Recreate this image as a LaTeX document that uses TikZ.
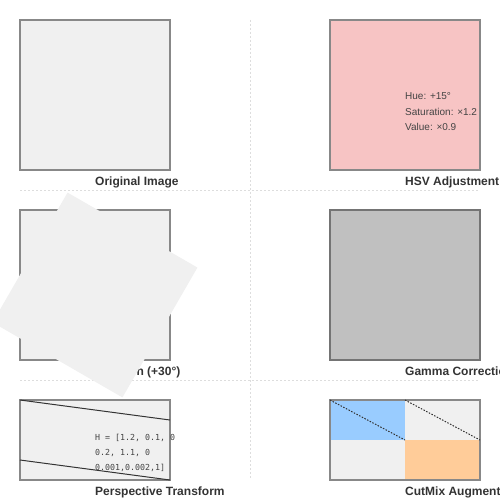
\documentclass[tikz,border=0pt]{standalone}
\usepackage{fontspec}
\setmainfont{Liberation Sans}
\newfontfamily\monofont{DejaVu Sans Mono}
\definecolor{sepgray}{HTML}{DDDDDD}
\definecolor{boxgray}{HTML}{888888}
\definecolor{lightfill}{HTML}{F0F0F0}
\definecolor{pinkfill}{HTML}{F7C4C4}
\definecolor{gammafill}{HTML}{C0C0C0}
\definecolor{bluefill}{HTML}{99CCFF}
\definecolor{orangefill}{HTML}{FFCC99}
\definecolor{labeltext}{HTML}{333333}
\definecolor{smalltext}{HTML}{444444}
\tikzset{
  sep/.style={draw=sepgray, line width=1pt, dash pattern=on 2pt off 2pt},
  imgbox/.style={draw=boxgray, line width=1.5pt, inner sep=0pt, outer sep=0pt, minimum width=150pt},
  paneltitle/.style={anchor=base west, inner sep=0pt, text=labeltext, font=\fontsize{12}{14}\selectfont\bfseries},
  infotext/.style={anchor=base west, inner sep=0pt, text=smalltext, font=\fontsize{10}{12}\selectfont},
  codetext/.style={anchor=base west, inner sep=0pt, text=smalltext, font=\monofont\fontsize{8.3}{10}\selectfont},
  diagline/.style={draw=labeltext, line width=1pt},
  dotline/.style={draw=labeltext, line width=1pt, dash pattern=on 1.5pt off 1.5pt}
}
\begin{document}
\begin{tikzpicture}[x=1pt,y=-1pt]
\useasboundingbox (0,0) rectangle (500,500);
% separators
\coordinate (h1a) at (20,190); \coordinate (h1b) at (478,190);
\coordinate (h2a) at (20,380); \coordinate (h2b) at (478,380);
\coordinate (va) at (250,20); \coordinate (vb) at (250,478);
\draw[sep] (h1a) -- (h1b);
\draw[sep] (h2a) -- (h2b);
\draw[sep] (va) -- (vb);
% panel 1
\node[imgbox, fill=lightfill, minimum height=150pt] (orig) at (95,95) {};
\node[paneltitle] (origlbl) at (95,185) {Original Image};
% panel 2
\node[imgbox, fill=pinkfill, minimum height=150pt] (hsv) at (405,95) {};
\node[infotext] (hue) at (405,100) {Hue: +15°};
\node[infotext] (sat) at (405,115) {Saturation: ×1.2};
\node[infotext] (val) at (405,130) {Value: ×0.9};
\node[paneltitle] (hsvlbl) at (405,185) {HSV Adjustment};
% panel 3
\node[imgbox, fill=lightfill, minimum height=150pt] (rot) at (95,285) {};
\node[paneltitle] (rotlbl) at (95,375) {Rotation (+30°)};
% panel 4
\node[imgbox, fill=gammafill, draw=boxgray!85!black, minimum height=150pt] (gamma) at (405,285) {};
\node[paneltitle] (gammalbl) at (405,375) {Gamma Correction};
% panel 5
\node[imgbox, fill=lightfill, minimum height=80pt] (persp) at (95,440) {};
\coordinate (p1) at (170,420);
\coordinate (p2) at (20,460);
\draw[diagline] (persp.north west) -- (p1);
\draw[diagline] (p2) -- (persp.south east);
\node[codetext] (h1) at (95,440) {H = [1.2, 0.1, 0};
\node[codetext] (h2) at (95,455) {0.2, 1.1, 0};
\node[codetext] (h3) at (95,470) {0.001,0.002,1]};
\node[paneltitle] (persplbl) at (95,495) {Perspective Transform};
% panel 6
\node[imgbox, fill=lightfill, minimum height=80pt] (cut) at (405,440) {};
\fill[bluefill] (330,400) rectangle (405,440);
\fill[orangefill] (405,440) rectangle (480,480);
\node[imgbox, minimum height=80pt] (cutframe) at (405,440) {};
\coordinate (c1) at (405,440);
\coordinate (c2) at (405,400);
\coordinate (c3) at (480,440);
\draw[dotline] (cut.north west) -- (c1);
\draw[dotline] (c2) -- (c3);
\node[paneltitle] (cutlbl) at (405,495) {CutMix Augmentation};
% rotated square on top
\fill[lightfill] (67.55,192.55) -- (197.45,267.55) -- (122.45,397.45) -- (-7.45,322.45) -- cycle;
\end{tikzpicture}
\end{document}
